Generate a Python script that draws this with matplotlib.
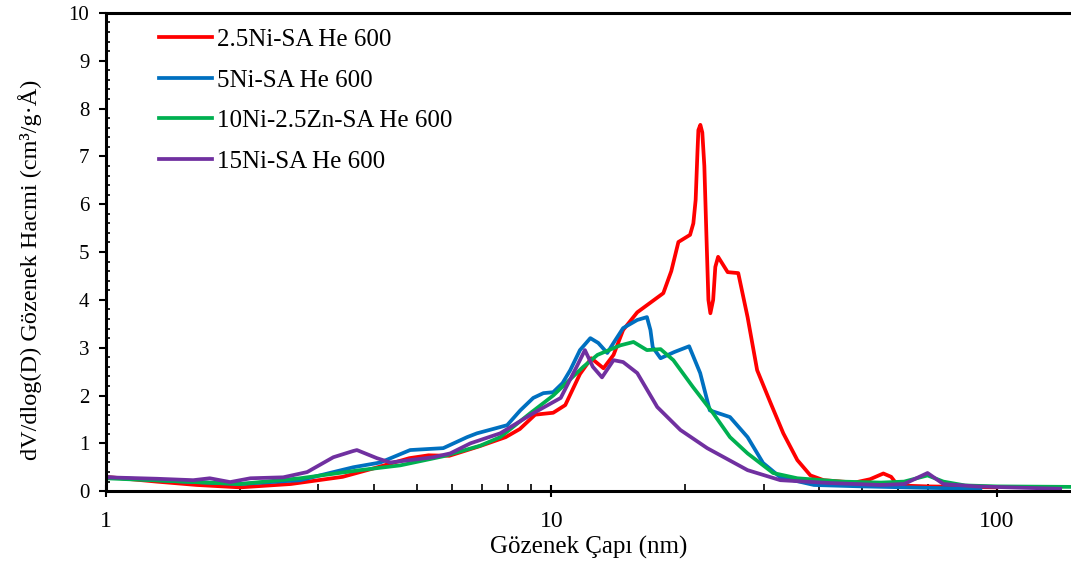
import numpy as np
import matplotlib.pyplot as plt
from matplotlib.ticker import MultipleLocator, LogLocator, NullFormatter, FixedLocator, FixedFormatter

plt.rcParams['font.family'] = ['Liberation Serif', 'DejaVu Serif']

# pore diameter (nm) and dV/dlog(D)
d_25ni = [1.0, 1.3, 1.6, 2.0, 2.6, 3.4, 4.0, 4.8, 5.3, 5.9, 6.9, 7.9, 8.5, 9.2, 10.1, 10.75,
          11.6, 12.3, 13.1, 13.8, 14.5, 15.6, 17.85, 18.6, 19.3, 20.5, 20.85, 21.1, 21.3,
          21.4, 21.62, 21.84, 22.07, 22.3, 22.54, 22.77, 23.1, 23.36, 23.7, 24.9, 26.3,
          27.6, 29.0, 31.1, 33.2, 35.7, 38.2, 40.9, 48.0, 52.0, 55.7, 58.0, 60.0, 70.0, 100.0]
v_25ni = [0.30, 0.2, 0.13, 0.08, 0.15, 0.3, 0.48, 0.69, 0.75, 0.74, 0.94, 1.13, 1.3, 1.6, 1.64, 1.8,
          2.45, 2.78, 2.57, 2.85, 3.37, 3.74, 4.14, 4.6, 5.21, 5.36, 5.6, 6.09, 7.1,
          7.55, 7.66, 7.5, 6.8, 5.4, 4.0, 3.72, 4.0, 4.69, 4.9, 4.58, 4.56,
          3.64, 2.53, 1.84, 1.21, 0.65, 0.33, 0.23, 0.18, 0.25, 0.37, 0.3, 0.12, 0.1, 0.08]

d_5ni = [1.0, 1.5, 2.0, 2.73, 3.59, 4.13, 4.82, 5.72, 6.47, 6.81, 7.96, 8.52, 9.11, 9.6, 10.1,
         10.6, 11.03, 11.6, 12.24, 12.75, 13.36, 13.8, 14.5, 15.6, 16.4, 16.7, 16.9, 17.6,
         18.9, 20.4, 21.6, 22.7, 25.2, 27.6, 29.9, 32.7, 38.9, 50.0, 70.0, 92.0]
v_5ni = [0.29, 0.2, 0.15, 0.23, 0.5, 0.6, 0.86, 0.9, 1.13, 1.21, 1.38, 1.69, 1.95, 2.05, 2.07,
         2.26, 2.53, 2.95, 3.2, 3.1, 2.89, 3.1, 3.41, 3.58, 3.64, 3.37, 3.01, 2.78,
         2.91, 3.03, 2.47, 1.69, 1.55, 1.13, 0.59, 0.29, 0.13, 0.1, 0.07, 0.05]

d_10ni = [1.0, 1.5, 2.0, 2.73, 3.72, 4.58, 5.72, 6.92, 7.68, 8.97, 10.1, 11.8, 12.7, 14.3,
          15.3, 16.4, 17.6, 18.8, 20.8, 23.1, 25.2, 27.6, 31.5, 35.7, 45.0, 55.0, 62.0,
          70.0, 76.0, 85.0, 100.0, 147.0]
v_10ni = [0.27, 0.2, 0.15, 0.27, 0.44, 0.54, 0.73, 0.95, 1.13, 1.63, 2.0, 2.6, 2.85, 3.05,
          3.12, 2.95, 2.97, 2.74, 2.18, 1.63, 1.13, 0.79, 0.38, 0.27, 0.2, 0.18, 0.2,
          0.33, 0.2, 0.12, 0.1, 0.09]

d_15ni = [1.0, 1.3, 1.57, 1.71, 1.9, 2.11, 2.5, 2.83, 3.24, 3.59, 3.66, 4.06, 4.35, 5.43,
          5.93, 6.58, 7.68, 9.11, 10.5, 11.4, 11.9, 12.4, 13.0, 13.8, 14.5, 15.6, 17.3,
          19.5, 22.4, 27.6, 32.7, 42.4, 55.0, 62.0, 70.0, 76.0, 90.0, 139.0]
v_15ni = [0.29, 0.26, 0.23, 0.27, 0.19, 0.27, 0.29, 0.4, 0.71, 0.84, 0.86, 0.69, 0.6, 0.71,
          0.79, 1.0, 1.21, 1.63, 1.95, 2.6, 2.95, 2.6, 2.38, 2.74, 2.7, 2.47, 1.76,
          1.28, 0.9, 0.44, 0.23, 0.17, 0.13, 0.15, 0.38, 0.15, 0.1, 0.05]

labels = ['2.5Ni-SA He 600', '5Ni-SA He 600', '10Ni-2.5Zn-SA He 600', '15Ni-SA He 600']
colors = ['#FF0000', '#0070C0', '#00B050', '#7030A0']

fig = plt.figure(figsize=(10.71, 5.62), dpi=100)
ax = fig.add_axes([0.099, 0.126, 0.901, 0.851])

series = [(d_25ni, v_25ni), (d_5ni, v_5ni), (d_10ni, v_10ni), (d_15ni, v_15ni)]
for (d, v), lab, c in zip(series, labels, colors):
    ax.plot(d, v, color=c, lw=2.7, label=lab, solid_joinstyle='round')

ax.set_xscale('log')
ax.set_xlim(1, 147)
ax.set_ylim(0, 10)

ax.xaxis.set_major_locator(FixedLocator([1, 10, 100]))
ax.xaxis.set_major_formatter(FixedFormatter(['1', '10', '100']))
ax.xaxis.set_minor_locator(LogLocator(base=10, subs=np.arange(2, 10)))
ax.xaxis.set_minor_formatter(NullFormatter())
ax.yaxis.set_major_locator(MultipleLocator(1))
ax.yaxis.set_minor_locator(MultipleLocator(0.2))

for s in ['left', 'bottom', 'top']:
    ax.spines[s].set_linewidth(2.2)
ax.spines['right'].set_visible(False)

ax.tick_params(axis='y', which='major', direction='out', length=5, width=1.5, labelsize=15, pad=7)
ax.tick_params(axis='y', which='minor', direction='in', length=3, width=1.2)
ax.tick_params(axis='x', which='major', direction='inout', length=8, width=1.5, labelsize=17, pad=10)
ax.tick_params(axis='x', which='minor', direction='in', length=5, width=1.2)

ax.set_xlabel('Gözenek Çapı (nm)', fontsize=18, labelpad=3)
ax.set_ylabel('dV/dlog(D) Gözenek Hacmi (cm³/g·Å)', fontsize=17.5)
ax.yaxis.set_label_coords(-0.066, 0.462)

ax.legend(loc='upper left', bbox_to_anchor=(0.045, 0.988), frameon=False, fontsize=18,
          handlelength=2.1, handletextpad=0.2, labelspacing=0.72, borderaxespad=0)

fig.savefig('out.png', dpi=100)
